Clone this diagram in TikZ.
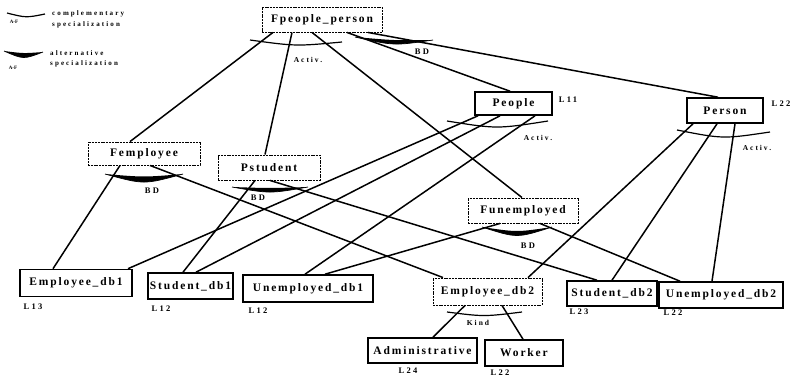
\documentclass[tikz,border=0pt]{standalone}
\usepackage{fontspec}
\setmainfont{Liberation Serif}
\newfontfamily\boxfont[LetterSpace=16]{Liberation Serif}
\newfontfamily\tagfont[LetterSpace=26]{Liberation Serif}
\newfontfamily\keyfont[LetterSpace=30]{Liberation Serif}
\tikzset{
  entity/.style={draw, line width=1.6pt, inner sep=0pt,
    font=\boxfont\bfseries\fontsize{11.5}{13}\selectfont},
  view/.style={entity, line width=0.9pt, dash pattern=on 2pt off 0.8pt},
  link/.style={line width=1.5pt},
  compl/.style={line width=1.2pt},
  tag/.style={inner sep=0pt, font=\tagfont\bfseries\fontsize{7.5}{9}\selectfont},
  lev/.style={inner sep=0pt, font=\tagfont\bfseries\fontsize{8.5}{10}\selectfont},
  key/.style={inner sep=0pt, anchor=west, font=\keyfont\bfseries\fontsize{7}{8}\selectfont},
  tiny/.style={inner sep=0pt, font=\bfseries\fontsize{5}{6}\selectfont},
}
\begin{document}
\begin{tikzpicture}[x=1pt,y=-1pt]
\useasboundingbox (0,0) rectangle (793,381);

% legend
\draw[compl] (7,13) .. controls (26,17.8) .. (45,14);
\node[tiny] (ka) at (14,22) {A-F};
\node[key] (kb) at (52,14) {complementary};
\node[key] (kc) at (52,25) {specialization};
\fill (4,51) .. controls (23.5,53.5) .. (43,52) .. controls (23.5,59.5) .. (4,51) -- cycle;
\draw[line width=0.7pt] (4,51) .. controls (23.5,59.5) .. (43,52);
\node[tiny] (kd) at (13,68) {A-F};
\node[key] (ke) at (50,53) {alternative};
\node[key] (kf) at (50,64) {specialization};

% federated views
\node[view, minimum width=120pt, minimum height=25pt] (fpp) at (322,19.5) {Fpeople\_person};
\node[view, minimum width=112pt, minimum height=23pt] (femp) at (144,153.5) {Femployee};
\node[view, minimum width=102pt, minimum height=25pt] (pstu) at (269,167.5) {Pstudent};
\node[view, minimum width=110pt, minimum height=25pt] (funemp) at (523,210.5) {Funemployed};
\node[view, minimum width=109pt, minimum height=27pt] (empdb2) at (487.5,291.5) {Employee\_db2};

% component classes
\node[entity, minimum width=77pt, minimum height=23pt] (people) at (513.5,103.5) {People};
\node[entity, minimum width=76pt, minimum height=25pt] (person) at (725,110.5) {Person};
\node[entity, minimum width=112pt, minimum height=27pt] (empdb1) at (76,283) {Employee\_db1};
\node[entity, minimum width=85pt, minimum height=26pt] (studb1) at (190.5,286) {Student\_db1};
\node[entity, minimum width=130pt, minimum height=27pt] (unempdb1) at (308,288.5) {Unemployed\_db1};
\node[entity, minimum width=90pt, minimum height=25pt] (studb2) at (612,293.5) {Student\_db2};
\node[entity, minimum width=124pt, minimum height=26pt] (unempdb2) at (721,295) {Unemployed\_db2};
\node[entity, minimum width=109pt, minimum height=25pt] (admin) at (422.5,350.5) {Administrative};
\node[entity, minimum width=78pt, minimum height=26pt] (worker) at (524,353) {Worker};

% levels
\node[lev] (lv1) at (568,100) {L11};
\node[lev] (lv2) at (781,104) {L22};
\node[lev] (lv3) at (33,307) {L13};
\node[lev] (lv4) at (161,309) {L12};
\node[lev] (lv5) at (258,311) {L12};
\node[lev] (lv6) at (579,312) {L23};
\node[lev] (lv7) at (673,313) {L22};
\node[lev] (lv8) at (408,371) {L24};
\node[lev] (lv9) at (500,373) {L22};

% connectors
\draw[link] ([xshift=-49pt]fpp.south) -- ([xshift=-14pt]femp.north);
\draw[link] ([xshift=-30pt]fpp.south) -- ([xshift=-4pt]pstu.north);
\draw[link] ([xshift=-10pt]fpp.south) -- ([xshift=-1pt]funemp.north);
\draw[link] ([xshift=25pt]fpp.south) -- ([xshift=-3.5pt]people.north);
\draw[link] ([xshift=46pt]fpp.south) -- ([xshift=-7pt]person.north);

\draw[link] ([xshift=-35.5pt]people.south) -- ([xshift=52pt]empdb1.north);
\draw[link] ([xshift=-13.5pt]people.south) -- ([xshift=5.5pt]studb1.north);
\draw[link] ([xshift=21.5pt]people.south) -- ([xshift=-3pt]unempdb1.north);

\draw[link] ([xshift=-32pt]person.south) -- ([xshift=40.5pt]empdb2.north);
\draw[link] ([xshift=-8pt]person.south) -- ([xshift=0pt]studb2.north);
\draw[link] ([xshift=10pt]person.south) -- ([xshift=-9pt]unempdb2.north);

\draw[link] ([xshift=-24pt]femp.south) -- ([xshift=-23pt]empdb1.north);
\draw[link] ([xshift=6pt]femp.south) -- ([xshift=-44.5pt]empdb2.north);
\draw[link] ([xshift=-14pt]pstu.south) -- ([xshift=-7.5pt]studb1.north);
\draw[link] ([xshift=1pt]pstu.south) -- ([xshift=-15pt]studb2.north);
\draw[link] ([xshift=-23pt]funemp.south) -- ([xshift=17pt]unempdb1.north);
\draw[link] ([xshift=17pt]funemp.south) -- ([xshift=-41pt]unempdb2.north);

\draw[link] ([xshift=-22.5pt]empdb2.south) -- ([xshift=10.5pt]admin.north);
\draw[link] ([xshift=14.5pt]empdb2.south) -- ([xshift=-1pt]worker.north);

% complementary specializations
\draw[compl] (250,40) .. controls (296,46.3) .. (342,42);
\node[tag] (ac1) at (308,60) {Activ.};
\draw[compl] (447,121) .. controls (497,129) .. (548,121);
\node[tag] (ac2) at (538,138) {Activ.};
\draw[compl] (677,130) .. controls (723,139) .. (770,132);
\node[tag] (ac3) at (757,148) {Activ.};
\draw[compl] (447,312) .. controls (484,316.7) .. (522,312);
\node[tag] (kind) at (478,323) {Kind};

% alternative specializations
\fill (355,37) .. controls (394,40.5) .. (433,40) .. controls (394,45.8) .. (355,37) -- cycle;
\draw[line width=0.7pt] (355,37) .. controls (394,45.8) .. (433,40);
\node[lev] (bd1) at (422,52) {BD};
\fill (105,174) .. controls (144,177.3) .. (183,174) .. controls (144,184.7) .. (105,174) -- cycle;
\draw[line width=0.7pt] (105,174) .. controls (144,184.7) .. (183,174);
\node[lev] (bd2) at (152,191) {BD};
\fill (232,187) .. controls (270,188.3) .. (308,187) .. controls (270,193.7) .. (232,187) -- cycle;
\draw[line width=0.7pt] (232,187) .. controls (270,193.7) .. (308,187);
\node[lev] (bd3) at (258,198) {BD};
\fill (482,227) .. controls (517,232.3) .. (552,227) .. controls (517,238.3) .. (482,227) -- cycle;
\draw[line width=0.7pt] (482,227) .. controls (517,238.3) .. (552,227);
\node[lev] (bd4) at (528,246) {BD};
\end{tikzpicture}
\end{document}
